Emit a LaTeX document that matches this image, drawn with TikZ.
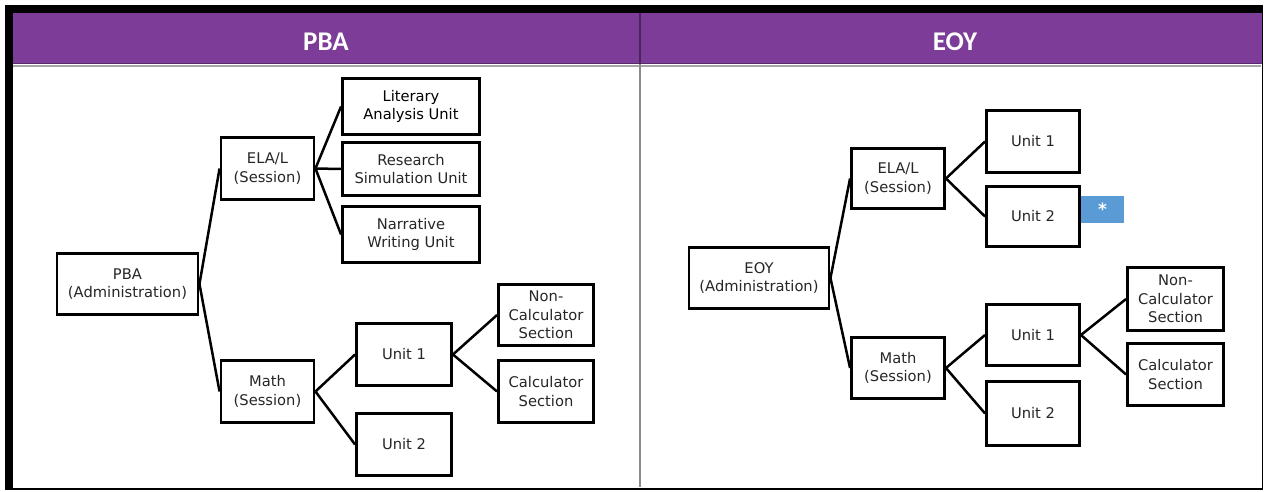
\documentclass[tikz,border=0pt]{standalone}
\usepackage{fontspec}
\setmainfont{DejaVu Sans}
\newfontfamily\headfont{Carlito}
\definecolor{headpurple}{RGB}{125,60,152}
\definecolor{starblue}{RGB}{91,155,213}

\begin{document}
\begin{tikzpicture}[x=1pt,y=-1pt,
		  box/.style={draw, line width=2.9pt, align=center, inner sep=0pt,
		    minimum width=93pt, minimum height=62pt,
		    font=\fontsize{14.7}{18.5}\selectfont, text=black!85},
		  adminbox/.style={box, minimum width=141pt, minimum height=61pt},
		  taskbox/.style={box, minimum width=137pt, minimum height=56pt},
		  headtext/.style={text=white, font=\headfont\bfseries\fontsize{27}{27}\selectfont},
		  link/.style={line width=2.5pt}]
		  \useasboundingbox (0,0) rectangle (1265,492);

		  % frame and header band
		  \fill[headpurple] (13,13) rectangle (1262,64);
		  \draw[headpurple!70!black, line width=1pt] (13,64) -- (1261,64);
		  \draw[black!35, line width=1.5pt] (13,66) -- (1261,66);
		  \fill[black] (5,5) rectangle (1263,13);
		  \fill[black] (5,5) rectangle (13,490);
		  \fill[black] (5,487.5) rectangle (1263,490);
		  \fill[black] (1261.5,5) rectangle (1263,490);
		  \draw[headpurple!60!black, line width=2.5pt] (640,13) -- (640,64);
		  \draw[black!45, line width=2.5pt] (640,64) -- (640,487);

		  \node[headtext] (phead) at (326,41.5) {PBA};
		  \node[headtext] (ehead) at (955,41.5) {EOY};

		  % PBA
		  \node[adminbox] (padm) at (127.5,284) {PBA\\(Administration)};
		  \node[box] (pela) at (267.5,168.5) {ELA/L\\(Session)};
		  \node[taskbox, text=black] (plit) at (411,106.5) {Literary\\Analysis Unit};
		  \node[taskbox, minimum height=53pt] (pres) at (411,169) {Research\\Simulation Unit};
		  \node[taskbox] (pnar) at (411,234.5) {Narrative\\Writing Unit};
		  \node[box] (pmath) at (267.5,391.5) {Math\\(Session)};
		  \node[box, minimum width=95pt] (punita) at (404,354.5) {Unit 1};
		  \node[box, minimum width=95pt] (punitb) at (404,444.5) {Unit 2};
		  \node[box, minimum width=95pt, minimum height=61pt] (pnon) at (546,315) {Non-\\Calculator\\Section};
		  \node[box, minimum width=95pt] (pcalc) at (546,391.5) {Calculator\\Section};

		  \draw[link] (padm.east) -- (pela.west);
		  \draw[link] (padm.east) -- (pmath.west);
		  \draw[link] (pela.east) -- (plit.west);
		  \draw[link] (pela.east) -- (pres.west);
		  \draw[link] (pela.east) -- (pnar.west);
		  \draw[link] (pmath.east) -- (punita.west);
		  \draw[link] (pmath.east) -- (punitb.west);
		  \draw[link] (punita.east) -- (pnon.west);
		  \draw[link] (punita.east) -- (pcalc.west);

		  % EOY
		  \node[adminbox, minimum width=140pt] (eadm) at (759,278) {EOY\\(Administration)};
		  \node[box, minimum height=60pt] (eela) at (898,178.5) {ELA/L\\(Session)};
		  \node[box] (eunita) at (1033,141.5) {Unit 1};
		  \node[box, minimum height=60pt] (eunitb) at (1033,216.5) {Unit 2};
		  \node[fill=starblue, text=white, inner sep=0pt, minimum width=43pt, minimum height=27pt,
		    font=\bfseries\fontsize{17}{17}\selectfont] (star) at (1102.5,209.5) {*};
		  \node[box, minimum height=61pt] (emath) at (898,368) {Math\\(Session)};
		  \node[box, minimum height=61pt] (eunitc) at (1033,335) {Unit 1};
		  \node[box, minimum height=64pt] (eunitd) at (1033,413.5) {Unit 2};
		  \node[box, minimum width=96pt, minimum height=63pt] (enon) at (1175.5,299) {Non-\\Calculator\\Section};
		  \node[box, minimum width=96pt] (ecalc) at (1175.5,374.5) {Calculator\\Section};

		  \draw[link] (eadm.east) -- (eela.west);
		  \draw[link] (eadm.east) -- (emath.west);
		  \draw[link] (eela.east) -- (eunita.west);
		  \draw[link] (eela.east) -- (eunitb.west);
		  \draw[link] (emath.east) -- (eunitc.west);
		  \draw[link] (emath.east) -- (eunitd.west);
		  \draw[link] (eunitc.east) -- (enon.west);
		  \draw[link] (eunitc.east) -- (ecalc.west);
\end{tikzpicture}
\end{document}
